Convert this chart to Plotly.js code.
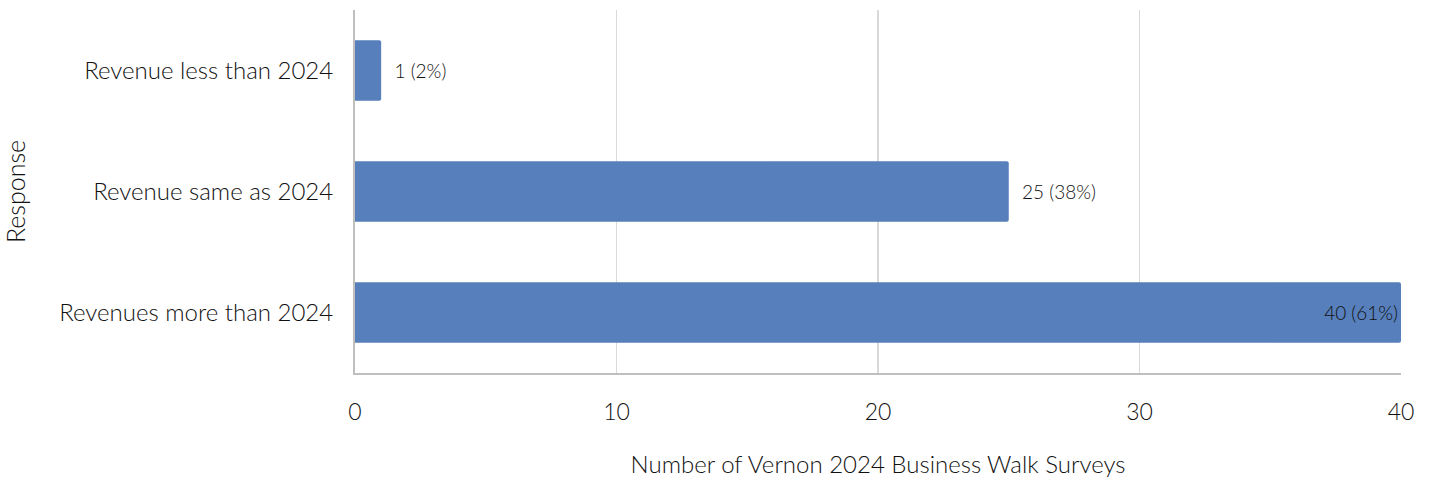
<!DOCTYPE html>
<html><head><meta charset="utf-8">
<script src="https://cdn.plot.ly/plotly-3.0.1.min.js"></script>
<style>html,body{margin:0;padding:0;background:#fff}#chart{width:1432px;height:485px}</style>
</head><body><div id="chart"></div>
<script>
const categories = ["Revenue less than 2024", "Revenue same as 2024", "Revenues more than 2024"];
const counts = [1, 25, 40];
const labels = ["1 (2%)", "25 (38%)", "40 (61%)"];
const xTicks = [0, 10, 20, 30, 40];

const FONT = "Lato, 'Open Sans', sans-serif";
const TXT = "#111111";
const trace = {
  type: "bar", orientation: "h",
  y: categories, x: counts,
  text: labels,
  texttemplate: "\u00a0\u00a0%{text}",
  textposition: ["outside", "outside", "inside"],
  insidetextanchor: "end",
  textfont: {family: FONT, size: 19, color: TXT, weight: 300},
  insidetextfont: {family: FONT, size: 19, color: TXT, weight: 300},
  outsidetextfont: {family: FONT, size: 19, color: TXT, weight: 300},
  marker: {color: "#567fbb", cornerradius: 2},
  cliponaxis: false,
  hoverinfo: "skip"
};
const layout = {
  width: 1432, height: 485,
  margin: {l: 355, r: 31, t: 10, b: 112},
  paper_bgcolor: "#fff", plot_bgcolor: "#fff",
  bargap: 0.5,
  showlegend: false,
  font: {family: FONT, color: TXT, weight: 300},
  xaxis: {
    range: [0, 40], tickvals: xTicks, ticktext: xTicks.map(String),
    showgrid: true, gridcolor: "#d9d9d9", gridwidth: 1.5,
    zeroline: false, showline: true, linecolor: "#bfbfbf", linewidth: 2,
    ticks: "", ticklabelstandoff: 17,
    tickfont: {family: FONT, size: 23, color: TXT, weight: 300},
    title: {text: "Number of Vernon 2024 Business Walk Surveys", standoff: 33,
            font: {family: FONT, size: 24, color: TXT, weight: 300}},
    fixedrange: true
  },
  yaxis: {
    categoryorder: "array", categoryarray: categories, autorange: "reversed",
    showgrid: false, zeroline: false, showline: true, linecolor: "#bfbfbf", linewidth: 2,
    ticks: "", ticklabelstandoff: 15,
    tickfont: {family: FONT, size: 24, color: TXT, weight: 300},
    title: {text: "Response", standoff: 33,
            font: {family: FONT, size: 25, color: TXT, weight: 300}},
    fixedrange: true
  }
};
Plotly.newPlot("chart", [trace], layout, {displayModeBar: false, staticPlot: true});
</script></body></html>
